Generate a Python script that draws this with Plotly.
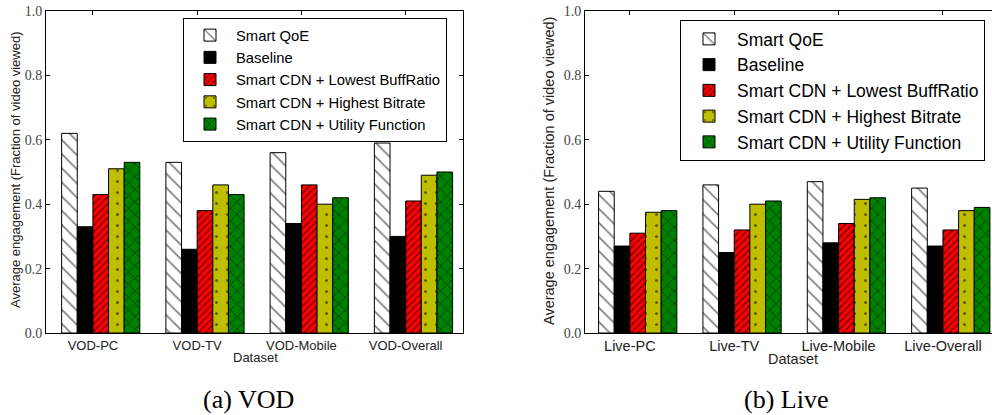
import plotly.graph_objects as go

# ---------------- data ----------------
vod_categories = ["VOD-PC", "VOD-TV", "VOD-Mobile", "VOD-Overall"]
live_categories = ["Live-PC", "Live-TV", "Live-Mobile", "Live-Overall"]
series_names = [
    "Smart QoE",
    "Baseline",
    "Smart CDN + Lowest BuffRatio",
    "Smart CDN + Highest Bitrate",
    "Smart CDN + Utility Function",
]

vod_smart_qoe = [0.62, 0.53, 0.56, 0.59]
vod_baseline = [0.33, 0.26, 0.34, 0.30]
vod_lowest_buffratio = [0.43, 0.38, 0.46, 0.41]
vod_highest_bitrate = [0.51, 0.46, 0.40, 0.49]
vod_utility_function = [0.53, 0.43, 0.42, 0.50]

live_smart_qoe = [0.44, 0.46, 0.47, 0.45]
live_baseline = [0.27, 0.25, 0.28, 0.27]
live_lowest_buffratio = [0.31, 0.32, 0.34, 0.32]
live_highest_bitrate = [0.375, 0.40, 0.415, 0.38]
live_utility_function = [0.38, 0.41, 0.42, 0.39]

y_ticks = [0.0, 0.2, 0.4, 0.6, 0.8, 1.0]

# ---------------- styles ----------------
W, H = 992, 415
styles = [
    dict(color="white", pattern=dict(shape="\\", fgcolor="black", bgcolor="white", size=10, solidity=0.17)),
    dict(color="black", pattern=dict(shape="")),
    dict(color="#ff0000", pattern=dict(shape="/", fgcolor="black", bgcolor="#ff0000", size=5, solidity=0.3)),
    dict(color="#bfbf00", pattern=dict(shape=".", fgcolor="black", bgcolor="#bfbf00", size=11, solidity=0.06)),
    dict(color="#008000", pattern=dict(shape="x", fgcolor="black", bgcolor="#008000", size=9, solidity=0.18)),
]

vod_series = [vod_smart_qoe, vod_baseline, vod_lowest_buffratio, vod_highest_bitrate, vod_utility_function]
live_series = [live_smart_qoe, live_baseline, live_lowest_buffratio, live_highest_bitrate, live_utility_function]

bar_w = 0.15
fig = go.Figure()
positions = list(range(len(vod_categories)))

for k, (name, vals) in enumerate(zip(series_names, vod_series)):
    st = styles[k]
    fig.add_trace(go.Bar(
        x=positions, y=vals, name=name, width=bar_w, offset=-0.3 + k * bar_w,
        marker=dict(color=st["color"], pattern=st["pattern"], line=dict(color="black", width=1)),
        xaxis="x", yaxis="y", legend="legend",
    ))
for k, (name, vals) in enumerate(zip(series_names, live_series)):
    st = styles[k]
    fig.add_trace(go.Bar(
        x=positions, y=vals, name=name, width=bar_w, offset=-0.3 + k * bar_w,
        marker=dict(color=st["color"], pattern=st["pattern"], line=dict(color="black", width=1)),
        xaxis="x2", yaxis="y2", legend="legend2",
    ))

ydom = [1 - 333 / H, 1 - 11 / H]

def xax(domain, rng, labels, size, anchor):
    return dict(domain=domain, range=rng, tickvals=positions, ticktext=labels, anchor=anchor,
                showline=True, linecolor="black", linewidth=1, mirror="ticks", automargin=False,
                ticks="inside", ticklen=4, tickcolor="black", showgrid=False, zeroline=False,
                tickfont=dict(family="Liberation Sans, Arial", size=size, color="#222"))

def yax(anchor, mirror, size):
    return dict(domain=ydom, range=[0, 1.0], tickvals=y_ticks, tickformat=".1f", anchor=anchor,
                showline=True, linecolor="black", linewidth=1, mirror=mirror, automargin=False,
                ticks="inside", ticklen=4, tickcolor="black", showgrid=False, zeroline=False,
                tickfont=dict(family="Liberation Serif, Times New Roman", size=size, color="#444"))

fig.update_layout(
    width=W, height=H,
    margin=dict(l=0, r=0, t=0, b=0, autoexpand=False),
    paper_bgcolor="white", plot_bgcolor="white",
    barmode="overlay",
    xaxis=xax([46 / W, 463 / W], [-0.45, 3.55], vod_categories, 13, "y"),
    yaxis=yax("x", "ticks", 14),
    xaxis2=xax([585 / W, 1.0], [-0.43, 3.47], live_categories, 14.5, "y2"),
    yaxis2=yax("x2", False, 14),
    legend=dict(x=183 / W, y=1 - 18 / H, xanchor="left", yanchor="top", itemwidth=42,
                bordercolor="black", borderwidth=1, bgcolor="white", tracegroupgap=0,
                font=dict(family="Liberation Sans, Arial", size=14.8, color="black")),
    legend2=dict(x=680 / W, y=1 - 20 / H, xanchor="left", yanchor="top", itemwidth=46,
                 bordercolor="black", borderwidth=1, bgcolor="white", tracegroupgap=0,
                 font=dict(family="Liberation Sans, Arial", size=17.5, color="black")),
    showlegend=True,
)

ann_font_sans = "Liberation Sans, Arial"
for text, x, y, size in [("Dataset", 255, 357, 13), ("Dataset", 793, 359, 14.5)]:
    fig.add_annotation(text=text, x=x / W, y=1 - y / H, xref="paper", yref="paper",
                       showarrow=False, xanchor="center", yanchor="middle",
                       font=dict(family=ann_font_sans, size=size, color="#222"))
for x, y, size in [(15, 170, 13), (549, 171, 14.5)]:
    fig.add_annotation(text="Average engagement (Fraction of video viewed)", x=x / W, y=1 - y / H,
                       xref="paper", yref="paper", showarrow=False, textangle=-90,
                       xanchor="center", yanchor="middle",
                       font=dict(family=ann_font_sans, size=size, color="#222"))
for text, x in [("(a) VOD", 248), ("(b) Live", 786)]:
    fig.add_annotation(text=text, x=x / W, y=1 - 399 / H, xref="paper", yref="paper",
                       showarrow=False, xanchor="center", yanchor="middle",
                       font=dict(family="Liberation Serif, Times New Roman", size=26, color="black"))

fig.write_html("out.html", config={"displayModeBar": False},
               post_script="document.body.style.margin='0';")
